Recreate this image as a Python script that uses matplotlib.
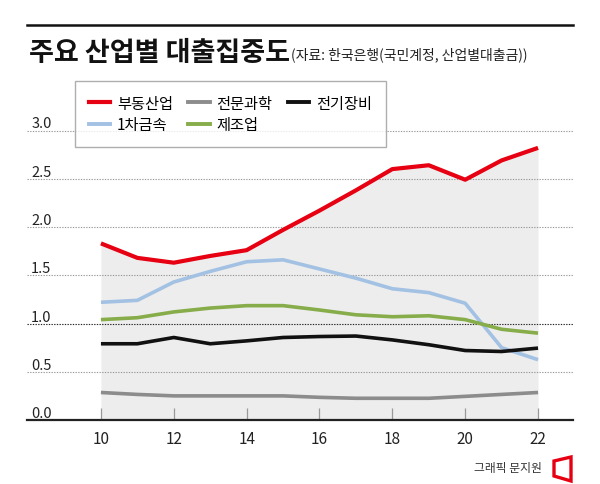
import numpy as np
import matplotlib
matplotlib.use("Agg")
import matplotlib.pyplot as plt
from matplotlib.patches import Polygon
from matplotlib.lines import Line2D

plt.rcParams['font.family'] = ['Noto Sans CJK KR', 'DejaVu Sans']

# data (years 2010-2022)
years = np.arange(10, 23)
realestate = [1.83, 1.68, 1.63, 1.70, 1.76, 1.97, 2.17, 2.38, 2.60, 2.64, 2.49, 2.69, 2.82]
science = [0.285, 0.265, 0.25, 0.25, 0.25, 0.25, 0.235, 0.225, 0.225, 0.225, 0.245, 0.265, 0.285]
electric = [0.79, 0.79, 0.855, 0.79, 0.82, 0.855, 0.865, 0.87, 0.83, 0.78, 0.72, 0.71, 0.745]
metal = [1.22, 1.24, 1.43, 1.54, 1.64, 1.66, 1.565, 1.47, 1.36, 1.32, 1.21, 0.75, 0.625]
manuf = [1.04, 1.06, 1.12, 1.16, 1.185, 1.185, 1.14, 1.09, 1.07, 1.08, 1.04, 0.94, 0.90]

names = ['부동산업', '1차금속', '전문과학', '제조업', '전기장비']
yticks = [0.0, 0.5, 1.0, 1.5, 2.0, 2.5, 3.0]
xticks = [10, 12, 14, 16, 18, 20, 22]

RED = '#e60012'
BLUE = '#a3c1e3'
GRAY = '#8c8c8c'
BLACK = '#111111'
GREEN = '#86ad4a'

W, H = 600, 485
fig = plt.figure(figsize=(6, 4.85), dpi=100)
ax = fig.add_axes([27 / W, (H - 421) / H, 546 / W, (421 - 110) / H])
ax.set_xlim(7.97, 22.96)
ax.set_ylim(0, (421 - 110) / 96.5)

# shaded area under the real-estate line
ax.fill_between(years, 0, realestate, color='#ededed', lw=0, zorder=1)

# gridlines
for v in yticks[1:]:
    ax.axhline(v, color='#222222' if v == 1.0 else '#9a9a9a', lw=0.8,
               ls=(0, (1.2, 1.2)), zorder=2)

ax.plot(years, science, color=GRAY, lw=2.6, zorder=3, solid_capstyle='butt')
ax.plot(years, metal, color=BLUE, lw=2.6, zorder=4, solid_capstyle='butt')
ax.plot(years, manuf, color=GREEN, lw=2.6, zorder=5, solid_capstyle='butt')
ax.plot(years, electric, color=BLACK, lw=2.6, zorder=6, solid_capstyle='butt')
ax.plot(years, realestate, color=RED, lw=3.0, zorder=7, solid_capstyle='butt')

for s in ['top', 'right', 'left']:
    ax.spines[s].set_visible(False)
ax.spines['bottom'].set_color('#222222')
ax.spines['bottom'].set_linewidth(1.6)
ax.spines['bottom'].set_zorder(8)

ax.set_xticks(xticks)
ax.set_xticklabels([str(x) for x in xticks], fontsize=11, color='#222222')
ax.tick_params(axis='x', direction='in', length=9, width=0.9, color='#999999', pad=7)
ax.xaxis.get_major_ticks()[-1].tick1line.set_color('#222222')

ax.set_yticks(yticks)
ax.set_yticklabels(['%.1f' % v for v in yticks], fontsize=10.5, color='#222222')
ax.tick_params(axis='y', length=0, pad=-3)
for lab in ax.get_yticklabels():
    lab.set_ha('left')
    lab.set_va('bottom')

# legend
colors = [RED, BLUE, GRAY, GREEN, BLACK]
handles = [Line2D([], [], color=c, lw=3.0 if c == RED else 2.8) for c in colors]
leg = fig.legend(handles, names, ncol=3, loc='upper left',
                 bbox_to_anchor=(75 / W, 1 - 82 / H), frameon=True, fancybox=False,
                 fontsize=11, handlelength=1.4, handletextpad=0.45, columnspacing=1.0,
                 labelspacing=0.3, borderpad=0.9, borderaxespad=0)
leg.get_frame().set_edgecolor('#9a9a9a')
leg.get_frame().set_linewidth(1.0)

# title
fig.add_artist(Line2D([27 / W, 573 / W], [1 - 25.5 / H, 1 - 25.5 / H], color='#111111', lw=1.8))
fig.text(29 / W, 1 - 53 / H, '주요 산업별 대출집중도', fontsize=19.5, fontweight='bold',
         va='center', ha='left', color='#111111')
fig.text(291 / W, 1 - 55 / H, '(자료: 한국은행(국민계정, 산업별대출금))', fontsize=10,
         va='center', ha='left', color='#222222')

# credit
fig.text(542 / W, 1 - 469 / H, '그래픽 문지원', fontsize=8.5, va='center', ha='right',
         color='#333333')
logo = Polygon([(554 / W, 1 - 462 / H), (571 / W, 1 - 458 / H), (571 / W, 1 - 482 / H),
                (554 / W, 1 - 477 / H)], closed=True, fill=False, edgecolor=RED, lw=2.4,
               transform=fig.transFigure)
fig.add_artist(logo)

fig.savefig('out.png', dpi=100, facecolor='white')
